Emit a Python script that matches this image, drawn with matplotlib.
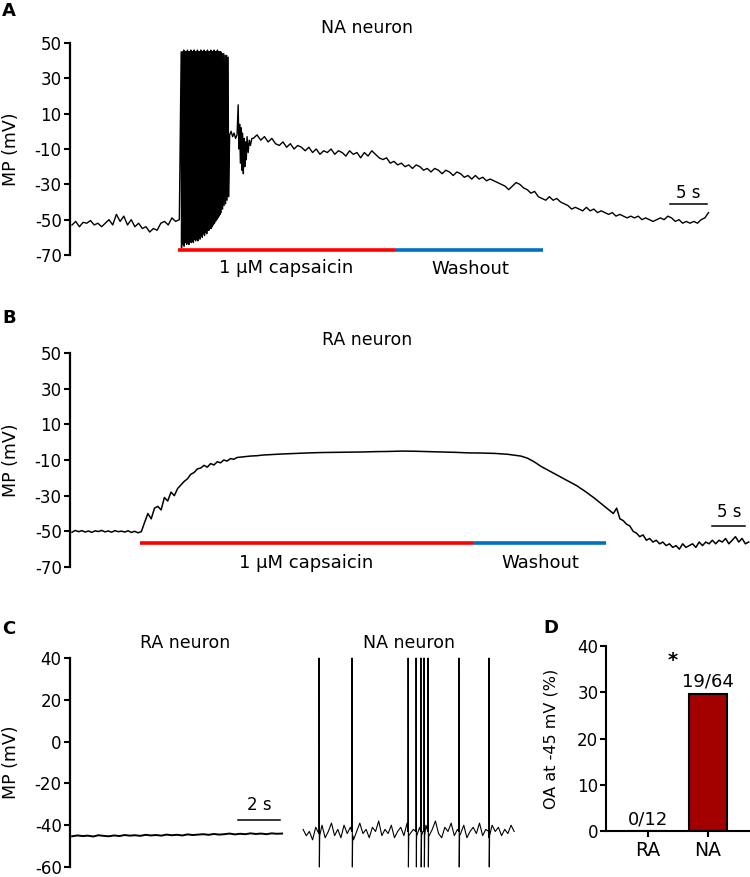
import numpy as np
import matplotlib
matplotlib.use('agg')
import matplotlib.pyplot as plt

plt.rcParams['font.family'] = ['DejaVu Sans']
plt.rcParams['axes.unicode_minus'] = False

W, H = 750, 877

# ---------------- data, panel A (NA neuron, capsaicin) ----------------
# membrane potential (mV), 0.5 s samples from t = 0 s
a_pre_v = [-53, -51, -54, -51.5, -52, -50.5, -53, -52, -54, -52, -50, -53, -47, -51,
           -48, -53, -50, -54, -52, -55, -54, -57, -55, -56, -52, -51, -53, -49, -51, -50]
# action potential burst
a_spike_t = [14.75, 14.92, 15.1, 15.28, 15.44, 15.6, 15.75, 15.9, 16.05, 16.2, 16.35,
             16.5, 16.65, 16.8, 16.95, 17.1, 17.25, 17.4, 17.55, 17.7, 17.85, 18.0,
             18.15, 18.3, 18.45, 18.6, 18.75, 18.9, 19.05, 19.2, 19.35, 19.5, 19.65,
             19.8, 19.95, 20.1, 20.3, 20.5, 20.7, 20.9, 21.1]
a_spike_peak = [45, 45, 46, 45, 45, 46, 45, 45, 46, 45, 45, 46, 45, 45, 46, 45, 45, 46,
                45, 45, 46, 45, 45, 46, 45, 45, 46, 45, 45, 46, 45, 45, 46, 45, 45, 45,
                44, 44, 43, 43, 42]
a_spike_trough = [-66, -64, -65, -63, -64, -63, -64, -62, -63, -62, -63, -61, -62, -61,
                  -62, -60, -61, -59, -60, -58, -59, -57, -58, -56, -56, -55, -55, -54,
                  -53, -52, -51, -50, -49, -48, -47, -46, -44, -42, -41, -39, -37]
# after the burst
a_post_t = [21.3, 21.5, 21.7, 21.9, 22.1, 22.3, 22.45, 22.55, 22.65, 22.75, 22.85, 22.95,
            23.05, 23.15, 23.25, 23.35, 23.45, 23.55, 23.65, 23.8, 23.95, 24.1, 24.3]
a_post_v = [-2, 0, -3, -1, -4, -2, 15, -10, 4, -18, 2, -22, -1, -24, -4, -20, -6, -16,
            -3, -12, -5, -8, -4]
# 0.5 s samples from t = 24.5 s
a_tail_v = [-4, -2, -5, -3, -6, -4, -7, -8, -6, -9, -7, -10, -8, -9, -11, -9, -12, -10,
            -13, -11, -12, -10, -13, -11, -12, -14, -11, -13, -12, -15, -12, -14, -11,
            -13, -15, -16, -15, -18, -17, -19, -18, -20, -19, -21, -19, -20, -22, -21,
            -23, -21, -22, -24, -22, -23, -25, -23, -24, -26, -25, -27, -25, -27, -26,
            -28, -27, -28, -29, -30, -31, -33, -31, -29, -30, -32, -33, -35, -34, -37,
            -38, -39, -37, -39, -38, -40, -41, -42, -44, -43, -44, -45, -43, -45, -44,
            -46, -45, -46, -47, -46, -48, -47, -48, -49, -48, -49, -48, -50, -49, -50,
            -51, -50, -49, -50, -48, -49, -51, -50, -52, -51, -52, -51, -52, -50, -49, -46]
a_caps = (14.3, 43.6)
a_wash = (43.6, 63.6)

# ---------------- data, panel B (RA neuron, capsaicin) ----------------
b_base_v = [-50.5, -49.5, -50.2, -49.6, -50.4, -49.8, -50.6, -49.7, -50.1, -49.5, -50.3,
            -49.8, -50.5, -49.6, -50.2, -49.9, -50.4, -49.7, -50.6, -50.0, -50.8, -50.2]
b_rise_v = [-45, -40, -43, -37, -36, -38, -31, -33, -28, -30, -26, -24, -22, -20.5, -18,
            -17, -15, -14.5, -13, -14, -12, -12.8, -11, -11.6, -10, -10.6, -9.2, -9.6, -8.6]
b_plateau_t = [26, 27, 28, 29, 30, 32, 34, 36, 38, 40, 42, 44, 46, 48, 50, 52, 54, 56,
               58, 60, 62, 64, 66, 68]
b_plateau_v = [-8.2, -7.8, -7.6, -7.2, -7.0, -6.6, -6.3, -6.0, -5.8, -5.7, -5.6, -5.5,
               -5.3, -5.2, -5.0, -5.1, -5.3, -5.5, -5.7, -6.0, -6.1, -6.3, -6.8, -7.8]
b_fall_v = [-9, -10, -11, -12.2, -13.5, -14.5, -15.5, -16.5, -17.5, -18.5, -19.5, -20.5,
            -21.5, -22.5, -23.5, -24.5, -25.8, -27, -28.3, -29.7, -31, -32.5, -34, -35.5,
            -37, -38.5, -40, -37, -43, -44, -46, -47, -50, -51, -53, -52, -55, -54, -56,
            -55, -57, -56, -58, -57, -59, -58, -60, -57, -59, -58, -57, -59, -56, -58,
            -56, -57, -55, -57, -55, -56, -54, -57, -55, -53, -56, -54, -57, -56]
b_caps = (10.3, 60.8)
b_wash = (60.8, 80.9)

# ---------------- data, panel C (spontaneous activity at -45 mV) ----------------
c_ra_v = [-45.3, -44.9, -45.2, -45.0, -45.4, -44.8, -45.1, -45.3, -44.9, -45.2, -44.7,
          -45.0, -44.8, -45.1, -44.6, -44.9, -44.7, -45.0, -44.5, -44.8, -44.6, -44.9,
          -44.4, -44.7, -44.5, -44.3, -44.6, -44.2, -44.5, -44.3, -44.0, -44.4, -44.1,
          -44.3, -43.9, -44.2, -44.0, -44.3, -43.9, -44.1, -44.0]
c_na_v = [-42, -45, -43, -47, -41, -44, -40, -46, -43, -39, -45, -42, -46, -40, -44, -41,
          -47, -43, -39, -44, -42, -46, -41, -43, -38, -45, -42, -44, -40, -46, -43, -41,
          -45, -39, -44, -42, -47, -41, -43, -40, -45, -42, -38, -44, -46, -41, -43, -39,
          -45, -42, -44, -40, -46, -43, -41, -44, -39, -45, -42, -46, -40, -43, -41, -45,
          -42, -44, -40, -43]
c_na_spike_t = [11.86, 13.43, 16.1, 16.48, 16.71, 16.86, 17.05, 18.52, 19.95]
c_na_spike_peak = [40, 40, 40, 40, 40, 40, 40, 40, 40]
c_na_spike_trough = [-60, -60, -60, -60, -60, -60, -60, -60, -60]

# ---------------- data, panel D ----------------
d_groups = ['RA', 'NA']
d_values = [0, 29.7]
d_counts = ['0/12', '19/64']

red = '#ff0000'
blue = '#0070c0'

fig = plt.figure(figsize=(W / 100, H / 100), dpi=100)


def trace_axes(rect, ylim, yticks):
    ax = fig.add_axes(rect)
    ax.set_ylim(*ylim)
    for s in ['top', 'right', 'bottom']:
        ax.spines[s].set_visible(False)
    ax.spines['left'].set_linewidth(1.6)
    ax.set_xticks([])
    ax.set_yticks(yticks)
    ax.tick_params(axis='y', length=4.5, width=1.5, labelsize=12, pad=1.5)
    ax.set_ylabel('MP (mV)', fontsize=12.5)
    return ax


def frac(px, py):
    return px / W, 1 - py / H


# ---- A ----
a_t = list(np.arange(len(a_pre_v)) * 0.5)
a_v = list(a_pre_v)
for ts, pk, tr in zip(a_spike_t, a_spike_peak, a_spike_trough):
    a_t += [ts, ts + 0.05]
    a_v += [pk, tr]
a_t += a_post_t
a_v += a_post_v
a_t += list(24.5 + 0.5 * np.arange(len(a_tail_v)))
a_v += a_tail_v

axA = trace_axes([70 / W, 1 - 255 / H, 680 / W, 212 / H], (-70, 50), range(-70, 51, 20))
axA.set_xlim(-0.27, 91.6)
axA.plot(a_t, a_v, color='black', lw=1.0, clip_on=False)
axA.plot(a_caps, [-67.3, -67.3], color=red, lw=2.6, solid_capstyle='butt', clip_on=False)
axA.plot(a_wash, [-67.3, -67.3], color=blue, lw=2.6, solid_capstyle='butt', clip_on=False)
axA.text(28.9, -80.3, '1 µM capsaicin', ha='center', va='baseline', fontsize=13)
axA.text(53.8, -80.5, 'Washout', ha='center', va='baseline', fontsize=13)
axA.plot([80.8, 85.8], [-41.2, -41.2], color='black', lw=1.1, clip_on=False)
axA.text(83.3, -37.8, '5 s', ha='center', va='baseline', fontsize=12)
axA.yaxis.set_label_coords(-0.074, 0.5)

# ---- B ----
b_t = list(np.arange(len(b_base_v)) * 0.5)
b_v = list(b_base_v)
b_t += list(11 + 0.5 * np.arange(len(b_rise_v)))
b_v += b_rise_v
b_t += b_plateau_t
b_v += b_plateau_v
b_t += list(69 + 0.5 * np.arange(len(b_fall_v)))
b_v += b_fall_v

axB = trace_axes([70 / W, 1 - 567 / H, 680 / W, 214 / H], (-70, 50), range(-70, 51, 20))
axB.set_xlim(-0.3, 102.7)
axB.plot(b_t, b_v, color='black', lw=1.1, clip_on=False)
axB.plot(b_caps, [-56.4, -56.4], color=red, lw=2.6, solid_capstyle='butt', clip_on=False)
axB.plot(b_wash, [-56.4, -56.4], color=blue, lw=2.6, solid_capstyle='butt', clip_on=False)
axB.text(35.5, -70.4, '1 µM capsaicin', ha='center', va='baseline', fontsize=13)
axB.text(70.9, -70.4, 'Washout', ha='center', va='baseline', fontsize=13)
axB.plot([97.0, 102.0], [-46.9, -46.9], color='black', lw=1.1, clip_on=False)
axB.text(99.5, -41.9, '5 s', ha='center', va='baseline', fontsize=12)
axB.yaxis.set_label_coords(-0.074, 0.5)

# ---- C ----
axC = trace_axes([70 / W, 1 - 867 / H, 445 / W, 209 / H], (-60, 40), range(-60, 41, 20))
axC.set_xlim(0, 21.19)
c_ra_t = np.linspace(0.1, 10.1, len(c_ra_v))
axC.plot(c_ra_t, c_ra_v, color='black', lw=1.4, clip_on=False)

pts = [(11.1 + 0.15 * i, v) for i, v in enumerate(c_na_v)]
for ts, pk, tr in zip(c_na_spike_t, c_na_spike_peak, c_na_spike_trough):
    pts += [(ts - 0.01, -43), (ts, pk), (ts + 0.015, tr), (ts + 0.03, -45)]
pts.sort()
axC.plot([p[0] for p in pts], [p[1] for p in pts], color='black', lw=0.8, clip_on=False)
axC.plot([8.0, 10.0], [-37.6, -37.6], color='black', lw=1.1, clip_on=False)
axC.text(9.0, -32.9, '2 s', ha='center', va='baseline', fontsize=12)
axC.yaxis.set_label_coords(-0.112, 0.5)

# ---- D ----
axD = fig.add_axes([606 / W, 1 - 831 / H, 144 / W, 185 / H])
axD.bar(range(len(d_groups)), d_values, width=0.62, color='#a30000',
        edgecolor='black', linewidth=1.5)
axD.set_xlim(-0.7, 1.7)
axD.set_ylim(0, 40)
axD.set_yticks(range(0, 41, 10))
axD.set_xticks(range(len(d_groups)))
axD.set_xticklabels(d_groups)
for s in ['top', 'right']:
    axD.spines[s].set_visible(False)
for s in ['left', 'bottom']:
    axD.spines[s].set_linewidth(1.5)
axD.tick_params(axis='y', length=4.5, width=1.5, labelsize=12, pad=1)
axD.tick_params(axis='x', length=4.5, width=1.5, labelsize=13.5, pad=3)
axD.set_ylabel('OA at -45 mV (%)', fontsize=11.5)
axD.yaxis.set_label_coords(-0.333, 0.5)
axD.text(0, 1.3, d_counts[0], ha='center', va='baseline', fontsize=13)
axD.text(1, 31.2, d_counts[1], ha='center', va='baseline', fontsize=13)
axD.text(0.42, 35.6, '*', ha='center', va='baseline', fontsize=14, fontweight='bold')

# ---- titles and panel letters ----
fig.text(*frac(367, 28), 'NA neuron', ha='center', va='center', fontsize=12.5)
fig.text(*frac(367, 340), 'RA neuron', ha='center', va='center', fontsize=12.5)
fig.text(*frac(185, 643), 'RA neuron', ha='center', va='center', fontsize=12.5)
fig.text(*frac(409, 643), 'NA neuron', ha='center', va='center', fontsize=12.5)
for letter, (px, py) in zip('ABCD', [(2, 11), (2, 318), (2, 629), (543, 628)]):
    fig.text(*frac(px, py), letter, ha='left', va='center', fontsize=13, fontweight='bold')

fig.savefig('out.png', dpi=100)
plt.close(fig)
